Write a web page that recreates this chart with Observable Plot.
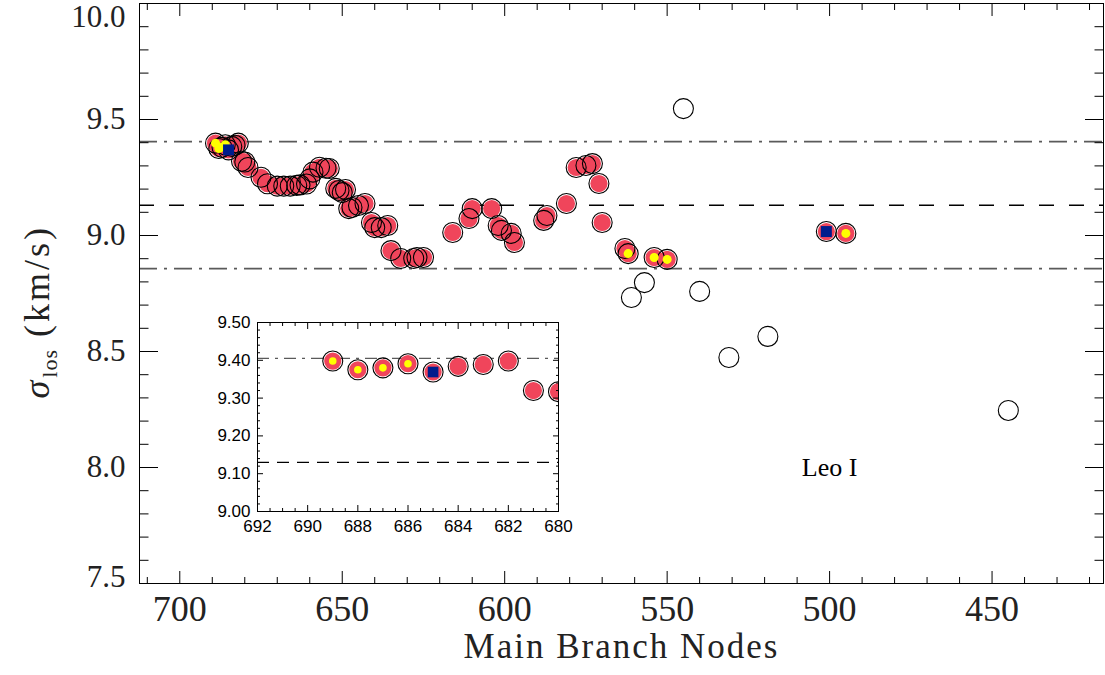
<!DOCTYPE html>
<html><head><meta charset="utf-8">
<script src="https://cdn.jsdelivr.net/npm/d3@7"></script>
<script src="https://cdn.jsdelivr.net/npm/@observablehq/plot@0.6"></script>
<style>
html,body{margin:0;padding:0;background:#fff;}
#wrap{position:relative;width:1105px;height:675px;overflow:hidden;background:#fff;}
#main{position:absolute;left:0;top:0;}
#inset{position:absolute;left:200px;top:312px;}
svg{overflow:visible;}
</style></head>
<body><div id="wrap"><div id="main"></div><div id="inset"></div></div>
<script>
// ---------------- data ----------------
const redNodes = [689,688,687,686,685,684,683,682,681,680,679,675,673,670,668,666,664,663,661,660,659,657,655,654,652,651,650,649,648,647,645,643,641,640,638,636,635,632,628,627,625,616,611,610,604,602,601,598,597,588,587,581,578,575,573,571,570,563,562,554,550,501,495];
const redSigma = [9.398,9.375,9.380,9.391,9.369,9.384,9.389,9.398,9.320,9.317,9.293,9.251,9.223,9.213,9.213,9.213,9.216,9.218,9.222,9.244,9.273,9.294,9.290,9.289,9.203,9.194,9.185,9.198,9.116,9.121,9.129,9.138,9.056,9.034,9.034,9.043,8.935,8.901,8.901,8.905,8.905,9.013,9.073,9.116,9.116,9.043,9.022,9.009,8.970,9.065,9.086,9.138,9.293,9.302,9.310,9.224,9.056,8.944,8.922,8.905,8.897,9.017,9.009];
const yellowNodes = [689,688,687,686,562,554,550,495];
const blueNodes = [685,501];
const openNodes = [545,561,557,540,531,519,445];
const openSigma = [9.547,8.733,8.797,8.759,8.474,8.565,8.246];
const meanSigma = 9.13;
const bandLow = 8.857;
const bandHigh = 9.405;

const xDomain = [712.4, 415.7];
const yDomain = [7.5, 10.0];
const xMajor = [700, 650, 600, 550, 500, 450];
const yMajor = [7.5, 8.0, 8.5, 9.0, 9.5, 10.0];
const insetXDomain = [692, 680];
const insetYDomain = [9.0, 9.5];
const insetXMajor = [692, 690, 688, 686, 684, 682, 680];
const insetYMajor = [9.0, 9.1, 9.2, 9.3, 9.4, 9.5];
const labelText = "Leo I";
const xTitle = "Main Branch Nodes";
const yTitle = "σlos (km/s)";

// ---------------- tables ----------------
const pts = redNodes.map((n, i) => ({node: n, sigma: redSigma[i], yellow: yellowNodes.includes(n), blue: blueNodes.includes(n)}));
const openPts = openNodes.map((n, i) => ({node: n, sigma: openSigma[i]}));
const xMinor = d3.range(420, 711, 10).filter(v => v % 50 !== 0);
const yMinor = d3.range(76, 100).filter(v => v % 5 !== 0).map(v => v / 10);
const insetXMinor = d3.range(0, 25).map(i => 680 + i * 0.5).filter(v => v % 2 !== 0);
const insetYMinor = d3.range(0, 26).filter(i => i % 5 !== 0).map(i => +(9.0 + i * 0.02).toFixed(2));

const RED = "#f0455b", YELLOW = "#ffff00", BLUE = "#001c8c";
const SERIF = "'Liberation Serif', 'Times New Roman', serif";
const SANS = "'Liberation Sans', Arial, sans-serif";

function ticks(xMaj, xMin, yMaj, yMin, xl, yl) {
  const o = (s) => ({tickSize: -s, tickFormat: () => "", label: null, stroke: "#000", strokeWidth: 1});
  return [
    Plot.axisX(xMaj, {anchor: "bottom", ...o(xl)}),
    Plot.axisX(xMaj, {anchor: "top", ...o(xl)}),
    Plot.axisX(xMin, {anchor: "bottom", ...o(xl / 2)}),
    Plot.axisX(xMin, {anchor: "top", ...o(xl / 2)}),
    Plot.axisY(yMaj, {anchor: "left", ...o(yl)}),
    Plot.axisY(yMaj, {anchor: "right", ...o(yl)}),
    Plot.axisY(yMin, {anchor: "left", ...o(yl / 2)}),
    Plot.axisY(yMin, {anchor: "right", ...o(yl / 2)})
  ];
}

// ---------------- main chart ----------------
const main = Plot.plot({
  width: 1105, height: 675,
  marginLeft: 139, marginRight: 2, marginTop: 3, marginBottom: 92,
  style: {background: "white", color: "#000"},
  x: {domain: xDomain, label: null},
  y: {domain: yDomain, label: null},
  marks: [
    Plot.ruleY([bandHigh, bandLow], {stroke: "#5a5a5a", strokeWidth: 1.7, strokeDasharray: "18,7,3,7"}),
    Plot.ruleY([meanSigma], {stroke: "#000", strokeWidth: 1.5, strokeDasharray: "15,15"}),
    Plot.dot(pts, {x: "node", y: "sigma", r: 8.6, fill: RED}),
    Plot.dot(pts, {x: "node", y: "sigma", r: 10, fill: "none", stroke: "#000", strokeWidth: 1.1}),
    Plot.dot(openPts, {x: "node", y: "sigma", r: 10, fill: "white", stroke: "#000", strokeWidth: 1.1}),
    Plot.dot(pts.filter(d => d.yellow), {x: "node", y: "sigma", r: 4.5, fill: YELLOW}),
    Plot.dot(pts.filter(d => d.blue), {x: "node", y: "sigma", r: 6.2, symbol: "square", fill: BLUE}),
    ...ticks(xMajor, xMinor, yMajor, yMinor, 12, 19),
    Plot.frame({stroke: "#000", strokeWidth: 1}),
    Plot.text(yMajor.filter(v => v > 7.5 && v < 10), {y: d => d, text: d => d.toFixed(1), frameAnchor: "left", dx: -14, textAnchor: "end", fontSize: 31, fontFamily: SERIF, fill: "#222"}),
    Plot.text([10.0], {y: d => d, text: d => d.toFixed(1), frameAnchor: "left", dx: -14, dy: 14, textAnchor: "end", fontSize: 31, fontFamily: SERIF, fill: "#222"}),
    Plot.text([7.5], {y: d => d, text: d => d.toFixed(1), frameAnchor: "left", dx: -14, dy: -6, textAnchor: "end", fontSize: 31, fontFamily: SERIF, fill: "#222"}),
    Plot.text(xMajor, {x: d => d, text: d => String(d), frameAnchor: "bottom", dy: 37, fontSize: 36, fontFamily: SERIF, fill: "#222"}),
    Plot.text([xTitle], {text: d => d, frameAnchor: "bottom", dy: 74, fontSize: 35, fontFamily: SERIF, fill: "#222"}),
    Plot.text([yTitle], {text: d => d, frameAnchor: "left", dx: -102, dy: 105, rotate: -90, textAnchor: "start", fontSize: 36, fontFamily: SERIF, fill: "#222"}),
    Plot.text([labelText], {x: () => 500, y: () => 8.0, text: d => d, fontSize: 26, fontFamily: SERIF, fill: "#000"})
  ]
});
document.getElementById("main").appendChild(main);

const allText = [...main.querySelectorAll("text")];
// x title letter spacing
{
  const t = allText.find(e => e.textContent === xTitle);
  if (t) t.setAttribute("letter-spacing", "2");
}
// y title with subscript
{
  const t = allText.find(e => e.textContent === yTitle);
  if (t) {
    const ns = "http://www.w3.org/2000/svg";
    t.textContent = "";
    t.setAttribute("letter-spacing", "3");
    t.setAttribute("text-anchor", "start");
    const a = document.createElementNS(ns, "tspan"); a.textContent = "σ"; a.setAttribute("font-style", "italic");
    const b = document.createElementNS(ns, "tspan"); b.textContent = "los"; b.setAttribute("font-size", "22"); b.setAttribute("dy", "8"); b.setAttribute("letter-spacing", "1");
    const c = document.createElementNS(ns, "tspan"); c.textContent = " (km/s)"; c.setAttribute("dy", "-8");
    t.append(a, b, c);
  }
}

// ---------------- inset ----------------
const inset = Plot.plot({
  width: 380, height: 230,
  marginLeft: 57, marginRight: 22, marginTop: 10, marginBottom: 31,
  style: {background: "white", color: "#000"},
  x: {domain: insetXDomain, label: null},
  y: {domain: insetYDomain, label: null},
  marks: [
    Plot.ruleY([bandHigh], {stroke: "#5a5a5a", strokeWidth: 1.3, strokeDasharray: "12,6,3,6"}),
    Plot.ruleY([meanSigma], {stroke: "#000", strokeWidth: 1.3, strokeDasharray: "12,8"}),
    Plot.dot(pts, {x: "node", y: "sigma", r: 8.6, fill: RED, clip: true}),
    Plot.dot(pts, {x: "node", y: "sigma", r: 10, fill: "none", stroke: "#000", strokeWidth: 1.1, clip: true}),
    Plot.dot(pts.filter(d => d.yellow), {x: "node", y: "sigma", r: 3.8, fill: YELLOW, clip: true}),
    Plot.dot(pts.filter(d => d.blue), {x: "node", y: "sigma", r: 6.0, symbol: "square", fill: BLUE, clip: true}),
    ...ticks(insetXMajor, insetXMinor, insetYMajor, insetYMinor, 6, 6),
    Plot.frame({stroke: "#000", strokeWidth: 1}),
    Plot.text(insetYMajor, {y: d => d, text: d => d.toFixed(2), frameAnchor: "left", dx: -7, textAnchor: "end", fontSize: 17, fontFamily: SANS, fill: "#000"}),
    Plot.text(insetXMajor, {x: d => d, text: d => String(d), frameAnchor: "bottom", dy: 20, fontSize: 17, fontFamily: SANS, fill: "#000"})
  ]
});
document.getElementById("inset").appendChild(inset);
</script>
</body></html>
